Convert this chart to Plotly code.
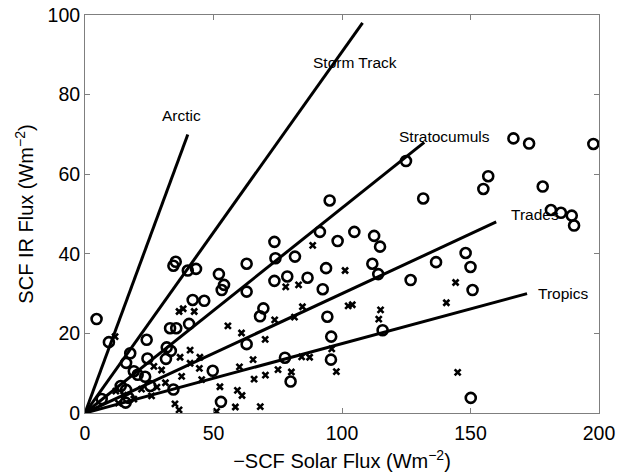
import plotly.graph_objects as go

# Fitted regime lines (end points, starting at origin)
line_names = ["Arctic", "Storm Track", "Stratocumuls", "Trades", "Tropics"]
line_end_x = [40, 108, 132, 160, 172]
line_end_y = [70, 98, 68, 48, 30]
label_x = [37.7, 105, 140, 165, 175.5]
label_y = [74.8, 88, 69.5, 50, 30]
label_anchor = ["center", "center", "center", "left", "left"]

# Open circles
circ_x = [4.5, 9.3, 35.3, 34.4, 40, 43.2, 41.9, 46.4, 40.5, 33.1, 35.5, 24, 17.6, 16, 19, 20.5,
          24.3, 23.4, 25.4, 31.8, 33.4, 31.5, 34.4, 13.9, 16, 15.8, 17, 6.5, 52.1, 54.1, 53.2,
          62.9, 62.9, 69.4, 68.1, 62.9, 49.7, 52.9, 73.7, 74.1, 73.7, 78.7, 81.7, 86.6, 77.8,
          80, 91.4, 104.8, 112.5, 114.8, 98.3, 93.8, 92.5, 111.8, 114.1, 126.7, 136.6, 148.1,
          150, 150.8, 94.3, 95.8, 95.7, 115.8, 150.1, 166.7, 172.8, 197.8, 156.9, 155, 178.1,
          181.3, 185.2, 189.4, 190.3, 124.9, 131.6, 95.2]
circ_y = [23.6, 17.8, 38.0, 37.0, 35.8, 36.2, 28.4, 28.2, 22.4, 21.3, 21.3, 18.4, 15.0, 12.6, 10.5, 9.6,
          13.7, 9.1, 6.8, 16.5, 15.6, 13.6, 5.9, 6.8, 5.8, 2.6, 3.8, 3.5, 34.9, 32.2, 30.9,
          37.5, 30.5, 26.3, 24.3, 17.3, 10.6, 2.8, 43.0, 38.9, 33.2, 34.3, 39.3, 34.0, 13.9,
          7.9, 45.5, 45.5, 44.5, 41.8, 43.2, 36.4, 31.1, 37.5, 34.9, 33.4, 37.9, 40.2,
          36.7, 30.9, 24.2, 19.2, 13.4, 20.8, 3.8, 69.0, 67.7, 67.6, 59.5, 56.3, 56.9,
          51.0, 50.3, 49.6, 47.1, 63.3, 53.9, 53.4]

# Crosses
cross_x = [11.7, 36.6, 38.2, 42.5, 40.9, 37, 44.7, 40.9, 44.5, 29.8, 26.8, 37.6, 31.3, 45.4, 25.9,
           35, 36.6, 51.2, 52.5, 55.6, 59.3, 61.1, 58.5, 60.1, 60.9, 65.4, 70.1, 65.8, 70.2, 68.2,
           73.8, 75.1, 78.1, 83.1, 81.5, 80.3, 84.3, 84.6, 87.4, 88.6, 101.2, 144.2, 140.6, 102.4,
           104, 115, 114.3, 96, 97.8, 145, 12, 15, 19, 22, 28, 13]
cross_y = [19.2, 25.5, 26.2, 25.5, 15.8, 14, 14, 12.5, 11.2, 10.8, 11.7, 9.2, 7.6, 8.4, 4.3,
           2.3, 0.8, 0.4, 6.6, 21.9, 5.7, 4.4, 1.5, 11.6, 20.1, 13.4, 18.5, 8.5, 9.5, 1.6,
           23.4, 10.9, 31.7, 32.2, 24.1, 10.3, 14.1, 26.7, 14, 42.1, 35.8, 32.8, 27.7, 26.9,
           27.2, 25.9, 23.6, 16.1, 10.4, 10.2, 5.5, 4.5, 3.5, 6, 6.5, 2.5]

FONT = "Liberation Sans, Arial, sans-serif"

fig = go.Figure()

for i, name in enumerate(line_names):
    fig.add_trace(go.Scatter(x=[0, line_end_x[i]], y=[0, line_end_y[i]], mode="lines",
                             line=dict(color="black", width=3), showlegend=False,
                             hoverinfo="skip"))

fig.add_trace(go.Scatter(x=cross_x, y=cross_y, mode="markers", showlegend=False,
                         marker=dict(symbol="x-thin", size=6, color="black",
                                     line=dict(color="black", width=2.6))))
fig.add_trace(go.Scatter(x=circ_x, y=circ_y, mode="markers", showlegend=False,
                         marker=dict(symbol="circle-open", size=10, color="black",
                                     line=dict(color="black", width=2.6))))

for i, name in enumerate(line_names):
    fig.add_annotation(x=label_x[i], y=label_y[i], text=name, showarrow=False,
                       xanchor=label_anchor[i], yanchor="middle",
                       font=dict(size=15.5, color="black", family=FONT))

axis_common = dict(showline=True, linecolor="#7f7f7f", linewidth=1, mirror="ticks",
                   ticks="inside", ticklen=5, tickcolor="#7f7f7f", showgrid=False,
                   zeroline=False, tickfont=dict(size=19.5, color="black", family=FONT))

fig.update_xaxes(range=[0, 200], tickvals=[0, 50, 100, 150, 200], ticklabelstandoff=3,
                 title=dict(text="\u2212SCF Solar Flux (Wm<sup>\u22122</sup>)",
                            font=dict(size=20, color="black", family=FONT), standoff=10),
                 **axis_common)
fig.update_yaxes(range=[0, 100], tickvals=[0, 20, 40, 60, 80, 100],
                 title=dict(text="SCF IR Flux (Wm<sup>\u22122</sup>)",
                            font=dict(size=20, color="black", family=FONT), standoff=8),
                 **axis_common)

fig.update_layout(width=618, height=476, plot_bgcolor="white", paper_bgcolor="white",
                  margin=dict(l=85, r=19, t=15, b=63, autoexpand=False),
                  font=dict(family=FONT, color="black"), hovermode=False)

# Remove the default page margin so the figure sits at the window's top-left corner.
fig.write_html("out.html", config={"displayModeBar": False},
               post_script="document.body.style.margin='0';document.body.style.overflow='hidden';")
